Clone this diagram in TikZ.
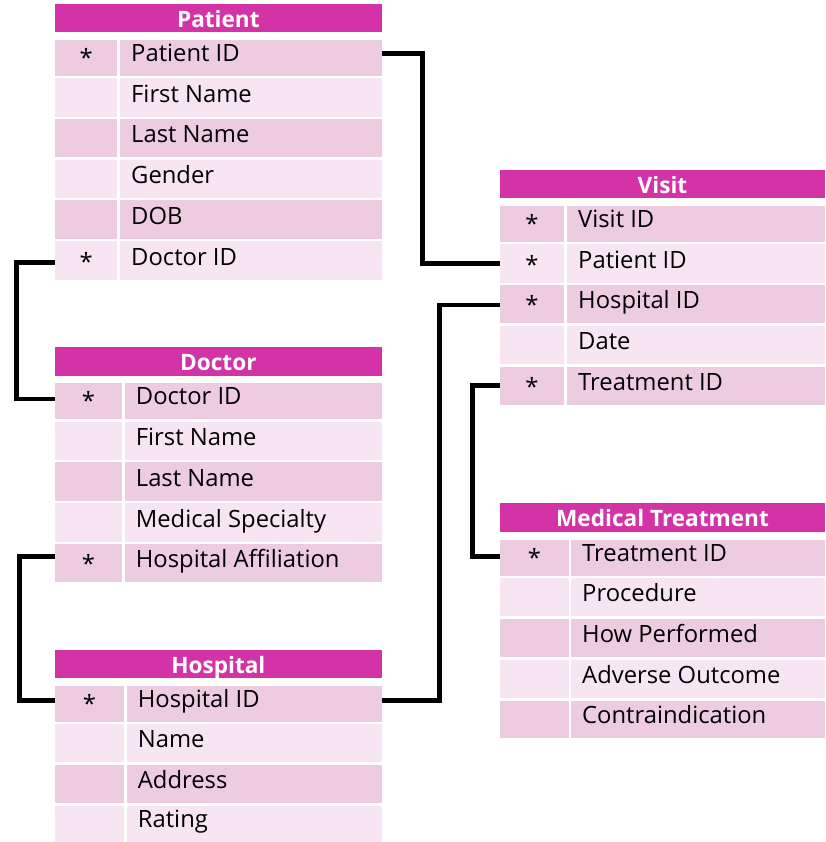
\documentclass[tikz,border=0pt]{standalone}
\usepackage{fontspec}
\setmainfont{Open Sans}
\definecolor{hdr}{HTML}{D333A6}
\definecolor{dk}{HTML}{EDCBE1}
\definecolor{lt}{HTML}{F7E6F1}
\tikzset{
  conn/.style={line width=4.8pt, black},
  cellbox/.style={inner sep=0pt, outer sep=0pt, anchor=north west},
  valtxt/.style={anchor=base west, inner sep=0pt, font=\fontsize{23.8}{27}\selectfont},
  keytxt/.style={anchor=base, inner sep=0pt, font=\fontsize{23.8}{27}\selectfont},
  hdrtxt/.style={anchor=base, inner sep=0pt, text=white, font=\fontsize{22.6}{26}\selectfont\bfseries},
}
\newcommand{\tblhead}[4]{%
  \node[cellbox, fill=hdr, minimum width={\TXr-\TXa}, minimum height={#3-#2}] (#1) at (\TXa,#2) {};
  \node[hdrtxt] (#1t) at ([yshift=-23.3pt]#1.north) {#4};
}
\newcommand{\trow}[6]{%
  \node[cellbox, fill=#4, minimum width={\TXk-\TXa}, minimum height={#3-#2}] (#1k) at (\TXa,#2) {};
  \node[cellbox, fill=#4, minimum width={\TXr-\TXv}, minimum height={#3-#2}] (#1) at (\TXv,#2) {};
  \node[keytxt] (#1s) at ([yshift=9.6pt]#1k.south) {#5};
  \node[valtxt] (#1t) at ([xshift=11pt,yshift=14.6pt]#1.south west) {#6};
}
\begin{document}
\begin{tikzpicture}[x=1pt,y=-1pt]
\useasboundingbox (0,0) rectangle (825,842);

% Patient
\def\TXa{55}\def\TXk{117.3}\def\TXv{120}\def\TXr{381.7}
\tblhead{ph}{4}{32}{Patient}
\trow{p1}{40}{76}{dk}{*}{Patient ID}
\trow{p2}{78.3}{116.7}{lt}{}{First Name}
\trow{p3}{119.3}{157}{dk}{}{Last Name}
\trow{p4}{160}{198}{lt}{}{Gender}
\trow{p5}{200}{238.7}{dk}{}{DOB}
\trow{p6}{241}{279.7}{lt}{*}{Doctor ID}

% Doctor
\def\TXa{55}\def\TXk{122}\def\TXv{124.7}\def\TXr{381.7}
\tblhead{dh}{346.7}{375.7}{Doctor}
\trow{d1}{383.3}{419}{dk}{*}{Doctor ID}
\trow{d2}{421.7}{460}{lt}{}{First Name}
\trow{d3}{462.3}{500.7}{dk}{}{Last Name}
\trow{d4}{503}{541.7}{lt}{}{Medical Specialty}
\trow{d5}{544.3}{582.3}{dk}{*}{Hospital Affiliation}

% Hospital
\def\TXa{55}\def\TXk{124}\def\TXv{126.7}\def\TXr{381.7}
\tblhead{hh}{650}{678.3}{Hospital}
\trow{h1}{686}{721.7}{dk}{*}{Hospital ID}
\trow{h2}{724}{762.3}{lt}{}{Name}
\trow{h3}{765}{803.3}{dk}{}{Address}
\trow{h4}{806}{841.7}{lt}{}{Rating}

% Visit
\def\TXa{500}\def\TXk{564}\def\TXv{567}\def\TXr{825}
\tblhead{vh}{170}{198.3}{Visit}
\trow{v1}{206}{241.7}{dk}{*}{Visit ID}
\trow{v2}{244.3}{282.7}{lt}{*}{Patient ID}
\trow{v3}{285.3}{323.3}{dk}{*}{Hospital ID}
\trow{v4}{325.7}{364}{lt}{}{Date}
\trow{v5}{366.7}{405}{dk}{*}{Treatment ID}

% Medical Treatment
\def\TXa{500}\def\TXk{568.7}\def\TXv{571}\def\TXr{825}
\tblhead{mh}{503.3}{532.3}{Medical Treatment}
\trow{m1}{540}{576}{dk}{*}{Treatment ID}
\trow{m2}{577.7}{616}{lt}{}{Procedure}
\trow{m3}{619}{656.7}{dk}{}{How Performed}
\trow{m4}{660}{697.7}{lt}{}{Adverse Outcome}
\trow{m5}{700.7}{738.3}{dk}{}{Contraindication}

% Connectors
\draw[conn] ([yshift=4.7pt]p1.east) -- ++(40.8,0) |- (v2k.west);
\draw[conn] ([yshift=-2.45pt]p6k.west) -- ++(-38.2,0) |- ([yshift=2.15pt]d1k.west);
\draw[conn] ([yshift=6.6pt]d5k.west) -- ++(-35.8,0) |- ([yshift=3.05pt]h1k.west);
\draw[conn] ([yshift=3.05pt]h1.east) -- ++(57.5,0) |- ([yshift=-0.7pt]v3k.west);
\draw[conn] (v5k.west) -- ++(-27.5,0) |- ([yshift=1.3pt]m1k.west);
\end{tikzpicture}
\end{document}
